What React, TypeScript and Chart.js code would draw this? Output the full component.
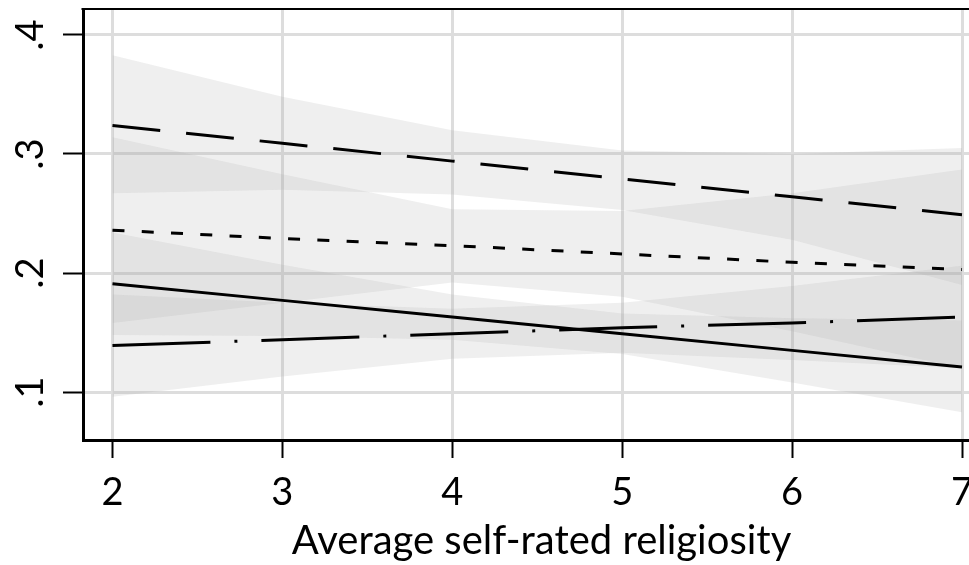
import React, { useEffect, useRef } from "react";
import { Chart, registerables } from "chart.js";

Chart.register(...registerables);

const xValues = [2, 3, 4, 5, 6, 7];

const longDash = [0.324, 0.309, 0.294, 0.279, 0.264, 0.249];
const longDashUpper = [0.383, 0.348, 0.32, 0.303, 0.3, 0.305];
const longDashLower = [0.267, 0.27, 0.266, 0.253, 0.228, 0.19];

const shortDash = [0.236, 0.229, 0.223, 0.216, 0.209, 0.203];
const shortDashUpper = [0.314, 0.283, 0.2535, 0.252, 0.267, 0.287];
const shortDashLower = [0.158, 0.175, 0.192, 0.18, 0.151, 0.12];

const solid = [0.191, 0.177, 0.163, 0.149, 0.135, 0.121];
const solidUpper = [0.234, 0.207, 0.182, 0.166, 0.162, 0.16];
const solidLower = [0.148, 0.147, 0.144, 0.132, 0.108, 0.083];

const dashDot = [0.139, 0.144, 0.149, 0.154, 0.158, 0.163];
const dashDotUpper = [0.182, 0.175, 0.17, 0.175, 0.189, 0.206];
const dashDotLower = [0.096, 0.113, 0.128, 0.133, 0.127, 0.12];

const xTicks = [2, 3, 4, 5, 6, 7];
const yTicks = [0.1, 0.2, 0.3, 0.4];
const xTitle = "Average self-rated religiosity";

const FONT = "Lato";
const BAND = "rgba(175,175,175,0.2)";

const pts = (ys: number[]) => xValues.map((x, i) => ({ x, y: ys[i] }));

export default function App() {
  const ref = useRef<HTMLCanvasElement | null>(null);

  useEffect(() => {
    if (!ref.current) return;

    const bandPair = (upper: number[], lower: number[], lowerIndex: number) => [
      {
        data: pts(upper),
        borderWidth: 0,
        pointRadius: 0,
        fill: { target: lowerIndex },
        backgroundColor: BAND,
        order: 2,
      },
      {
        data: pts(lower),
        borderWidth: 0,
        pointRadius: 0,
        fill: false,
        order: 2,
      },
    ];

    const line = (ys: number[], dash: number[]) => ({
      data: pts(ys),
      borderColor: "#000",
      borderWidth: 3,
      borderDash: dash,
      pointRadius: 0,
      fill: false,
      order: 0,
      borderCapStyle: "butt" as const,
    });

    const datasets: any[] = [
      ...bandPair(longDashUpper, longDashLower, 1),
      ...bandPair(shortDashUpper, shortDashLower, 3),
      ...bandPair(solidUpper, solidLower, 5),
      ...bandPair(dashDotUpper, dashDotLower, 7),
      line(longDash, [48, 26]),
      line(shortDash, [12, 17.3]),
      line(solid, []),
      line(dashDot, [98, 24, 3, 24]),
    ];

    const framePlugin = {
      id: "frame",
      afterDraw(chart: any) {
        const { ctx, chartArea, scales } = chart;
        ctx.save();
        ctx.strokeStyle = "#000";
        ctx.lineWidth = 2;
        ctx.beginPath();
        ctx.moveTo(chartArea.left - 1.5, chartArea.top);
        ctx.lineTo(chartArea.right, chartArea.top);
        ctx.stroke();
        // rotated y tick labels
        const ys = scales.y;
        ctx.fillStyle = "#000";
        ctx.font = `38px ${FONT}`;
        ctx.textAlign = "center";
        ctx.textBaseline = "alphabetic";
        ys.ticks.forEach((t: any) => {
          const py = ys.getPixelForValue(t.value);
          ctx.save();
          ctx.translate(43, py);
          ctx.rotate(-Math.PI / 2);
          ctx.fillText(String(t.label), 0, 0);
          ctx.restore();
        });
        ctx.restore();
      },
    };

    const chart = new Chart(ref.current, {
      type: "line",
      data: { datasets },
      plugins: [framePlugin],
      options: {
        animation: false,
        responsive: false,
        events: [],
        layout: { padding: { top: 9, right: 0, left: 0, bottom: 0 } },
        plugins: {
          legend: { display: false },
          tooltip: { enabled: false },
          title: { display: false },
        },
        scales: {
          x: {
            type: "linear",
            min: 1.8265,
            max: 7.2236,
            afterBuildTicks: (s: any) => {
              s.ticks = xTicks.map((v) => ({ value: v }));
            },
            afterFit: (s: any) => {
              s.height = 125;
            },
            grid: {
              color: "#dddddd",
              lineWidth: 3,
              tickColor: "#000",
              tickLength: 18,
              tickWidth: 2,
            },
            border: { color: "#000", width: 3 },
            ticks: {
              color: "#000",
              font: { family: FONT, size: 38 },
              padding: 12,
              maxRotation: 0,
              callback: (v: any) => String(v),
            },
            title: {
              display: true,
              text: xTitle,
              color: "#000",
              font: { family: FONT, size: 40 },
              padding: 0,
            },
          },
          y: {
            type: "linear",
            min: 0.0597,
            max: 0.4218,
            afterBuildTicks: (s: any) => {
              s.ticks = yTicks.map((v) => ({ value: v }));
            },
            afterFit: (s: any) => {
              s.width = 83;
            },
            grid: {
              color: "#dddddd",
              lineWidth: 3,
              tickColor: "#000",
              tickLength: 20,
              tickWidth: 2,
            },
            border: { color: "#000", width: 3 },
            ticks: {
              display: false,
              callback: (v: any) => String(v).replace(/^0/, ""),
            },
          },
        },
      },
    } as any);

    return () => chart.destroy();
  }, []);

  return (
    <div
      style={{
        position: "fixed",
        left: 0,
        top: 0,
        width: 969,
        height: 565,
        overflow: "hidden",
        background: "#fff",
      }}
    >
      <canvas ref={ref} width={1000} height={565} style={{ display: "block" }} />
    </div>
  );
}
